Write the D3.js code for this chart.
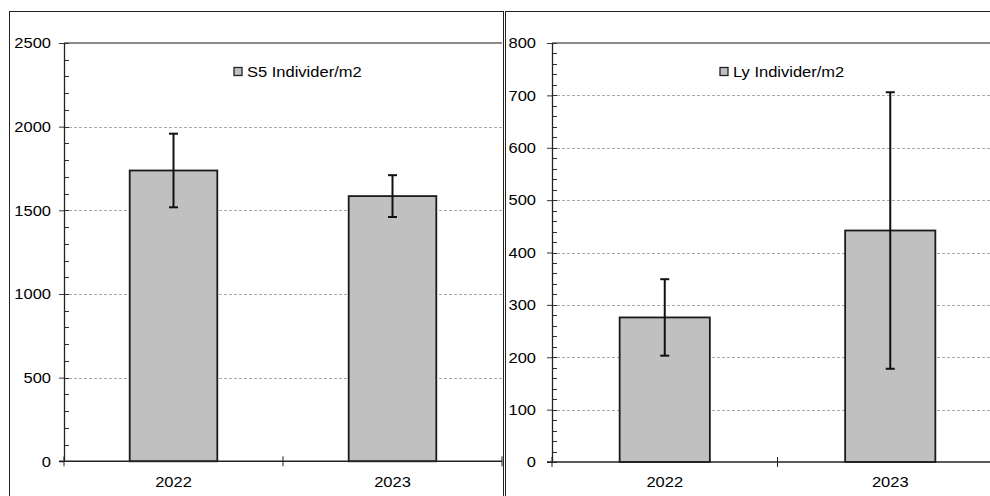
<!DOCTYPE html>
<html>
<head>
<meta charset="utf-8">
<script src="https://cdn.jsdelivr.net/npm/d3@7"></script>
<style>
  body { margin: 0; background: #fff; }
  text { font-family: "Liberation Sans", Arial, sans-serif; fill: #000; }
</style>
</head>
<body>
<div id="chart"></div>
<script>
// values
const categories = ["2022", "2023"];
const s5Means = [1738, 1585];
const s5Errors = [220, 125];
const lyMeans = [276, 442];
const lyErrors = [73, 264];
const s5Ticks = [0, 500, 1000, 1500, 2000, 2500];
const lyTicks = [0, 100, 200, 300, 400, 500, 600, 700, 800];
const s5Label = "S5 Individer/m2";
const lyLabel = "Ly Individer/m2";

const svg = d3.select("#chart").append("svg")
    .attr("width", 990)
    .attr("height", 496);

// stretch text a little wider, the source font is wide
function widen(sel, k) {
    sel.each(function() {
        const w = this.getComputedTextLength();
        d3.select(this).attr("textLength", w * k).attr("lengthAdjust", "spacingAndGlyphs");
    });
}

function drawPanel(p) {
    const g = svg.append("g");

    // panel frame
    g.append("rect")
        .attr("x", p.frame[0]).attr("y", 11.5)
        .attr("width", p.frame[1] - p.frame[0]).attr("height", 600)
        .attr("fill", "none").attr("stroke", "#222").attr("stroke-width", 1);

    const x = d3.scaleBand()
        .domain(categories)
        .range([p.x0, p.x1])
        .paddingInner(0.6)
        .paddingOuter(0.3);

    const y = d3.scaleLinear()
        .domain([0, d3.max(p.ticks)])
        .range([p.y1, p.y0]);

    const step = p.ticks[1] - p.ticks[0];
    const minor = d3.range(0, d3.max(p.ticks) + 0.001, step / 5);

    // dashed grid
    g.selectAll("line.grid")
        .data(p.ticks.filter(t => t > 0 && t < d3.max(p.ticks)))
        .enter().append("line")
        .attr("class", "grid")
        .attr("x1", p.x0).attr("x2", p.x1)
        .attr("y1", d => Math.round(y(d)) + 0.5).attr("y2", d => Math.round(y(d)) + 0.5)
        .attr("stroke", "#aaa").attr("stroke-dasharray", "3,2");

    // top edge of plot area
    g.append("line")
        .attr("x1", p.x0).attr("x2", p.x1)
        .attr("y1", y(d3.max(p.ticks))).attr("y2", y(d3.max(p.ticks)))
        .attr("stroke", "#8c8c8c").attr("stroke-width", 2);

    // minor ticks inside
    g.selectAll("line.minor")
        .data(minor)
        .enter().append("line")
        .attr("class", "minor")
        .attr("x1", p.x0).attr("x2", p.x0 + 5)
        .attr("y1", d => Math.round(y(d)) + 0.5).attr("y2", d => Math.round(y(d)) + 0.5)
        .attr("stroke", "#333");

    // y axis
    const yAxis = g.append("g")
        .attr("transform", `translate(${p.x0},0)`)
        .call(d3.axisLeft(y)
            .tickValues(p.ticks)
            .tickSizeInner(5)
            .tickSizeOuter(0)
            .tickPadding(p.pad)
            .tickFormat(d3.format("d")));
    yAxis.select(".domain").attr("stroke", "#222").attr("stroke-width", 1.3);
    yAxis.selectAll(".tick line").attr("stroke", "#333");
    yAxis.selectAll("text")
        .style("font-size", "15px")
        .style("font-family", "Liberation Sans, Arial, sans-serif")
        .attr("fill", "#000")
        .call(widen, 1.1);

    // bars
    g.selectAll("rect.bar")
        .data(p.means)
        .enter().append("rect")
        .attr("class", "bar")
        .attr("x", (d, i) => x(categories[i]))
        .attr("width", x.bandwidth())
        .attr("y", d => y(d))
        .attr("height", d => y(0) - y(d))
        .attr("fill", "#c0c0c0")
        .attr("stroke", "#1a1a1a")
        .attr("stroke-width", 1.8);

    // error bars
    const eb = g.selectAll("g.err")
        .data(p.means.map((m, i) => ({ cat: categories[i], m: m, e: p.errors[i] })))
        .enter().append("g").attr("class", "err");
    const cx = d => x(d.cat) + x.bandwidth() / 2;
    eb.append("line")
        .attr("x1", cx).attr("x2", cx)
        .attr("y1", d => y(d.m + d.e)).attr("y2", d => y(d.m - d.e))
        .attr("stroke", "#111").attr("stroke-width", 2);
    eb.append("line")
        .attr("x1", d => cx(d) - 4.5).attr("x2", d => cx(d) + 4.5)
        .attr("y1", d => y(d.m + d.e)).attr("y2", d => y(d.m + d.e))
        .attr("stroke", "#111").attr("stroke-width", 2);
    eb.append("line")
        .attr("x1", d => cx(d) - 4.5).attr("x2", d => cx(d) + 4.5)
        .attr("y1", d => y(d.m - d.e)).attr("y2", d => y(d.m - d.e))
        .attr("stroke", "#111").attr("stroke-width", 2);

    // x axis
    g.append("line")
        .attr("x1", p.x0 - 5).attr("x2", p.x1)
        .attr("y1", y(0)).attr("y2", y(0))
        .attr("stroke", "#222").attr("stroke-width", 1.5);
    const bounds = d3.range(categories.length + 1).map(i => p.x0 + i * x.step());
    g.selectAll("line.cattick")
        .data(bounds)
        .enter().append("line")
        .attr("class", "cattick")
        .attr("x1", d => d).attr("x2", d => d)
        .attr("y1", y(0) - 5).attr("y2", y(0) + 5)
        .attr("stroke", "#222");
    g.selectAll("text.cat")
        .data(categories)
        .enter().append("text")
        .attr("class", "cat")
        .attr("x", d => x(d) + x.bandwidth() / 2)
        .attr("y", 487)
        .attr("text-anchor", "middle")
        .style("font-size", "15px")
        .text(d => d)
        .call(widen, 1.1);

    // legend
    g.append("rect")
        .attr("x", p.legend[0]).attr("y", 67.5)
        .attr("width", 8).attr("height", 8)
        .attr("fill", "#c0c0c0").attr("stroke", "#222").attr("stroke-width", 1.3);
    g.append("text")
        .attr("x", p.legend[0] + 13).attr("y", 77)
        .style("font-size", "15px")
        .text(p.label)
        .call(widen, 1.1);
}

drawPanel({
    frame: [9.5, 503.5], x0: 64, x1: 502, y0: 43, y1: 461.3, pad: 8,
    ticks: s5Ticks, means: s5Means, errors: s5Errors, label: s5Label, legend: [234]
});
drawPanel({
    frame: [505.5, 1200], x0: 552, x1: 1003, y0: 43, y1: 462, pad: 11,
    ticks: lyTicks, means: lyMeans, errors: lyErrors, label: lyLabel, legend: [720]
});
</script>
</body>
</html>
